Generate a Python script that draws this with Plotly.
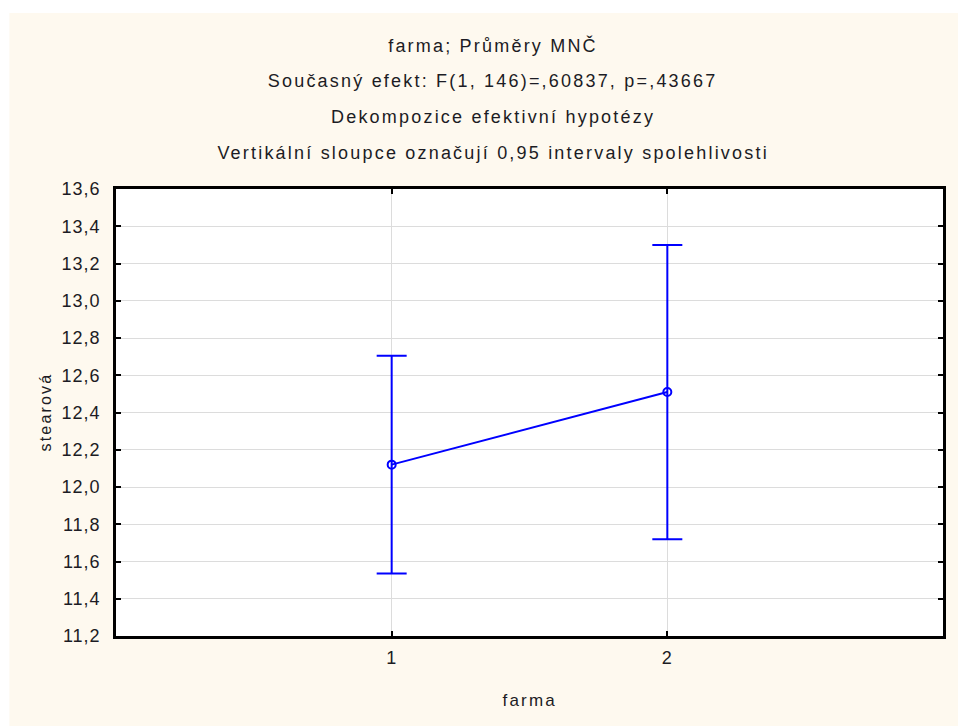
import plotly.graph_objects as go

# Data
categories = [1, 2]
means = [12.12, 12.51]
ci_half = [0.585, 0.79]
y_ticks = [11.2, 11.4, 11.6, 11.8, 12.0, 12.2, 12.4, 12.6, 12.8, 13.0, 13.2, 13.4, 13.6]
title_lines = [
    "farma; Průměry MNČ",
    "Současný efekt: F(1, 146)=,60837, p=,43667",
    "Dekompozice efektivní hypotézy",
    "Vertikální sloupce označují 0,95 intervaly spolehlivosti",
]
x_title = "farma"
y_title = "stearová"

W, H = 958, 726
L, R, T, B = 116, 12, 189, 90
pw, ph = W - L - R, H - T - B

def px_x(x):
    return (x - L) / pw

def px_y(y):
    return (H - B - y) / ph

BLUE = "#0000FF"
CREAM = "#FEF9EF"
TXT = "#1c1c24"
FONT = "Liberation Sans, Arial, sans-serif"

fig = go.Figure()
fig.add_trace(go.Scatter(
    x=categories, y=means,
    mode="lines+markers",
    line=dict(color=BLUE, width=2),
    marker=dict(symbol="circle-open", size=8, color=BLUE, line=dict(width=2, color=BLUE)),
    error_y=dict(type="data", array=ci_half, visible=True, color=BLUE, thickness=2, width=15),
    showlegend=False,
    hoverinfo="x+y",
))

annotations = []
title_y_px = [45, 81, 117, 153]
for txt, ypx in zip(title_lines, title_y_px):
    annotations.append(dict(
        text=txt, x=px_x(494), y=px_y(ypx), xref="paper", yref="paper",
        xanchor="center", yanchor="middle", showarrow=False,
        font=dict(family=FONT, size=18, color=TXT),
    ))
annotations.append(dict(
    text=x_title, x=0.5, y=px_y(700), xref="paper", yref="paper",
    xanchor="center", yanchor="middle", showarrow=False,
    font=dict(family=FONT, size=17, color=TXT),
))
annotations.append(dict(
    text=y_title, x=px_x(45), y=0.5, xref="paper", yref="paper",
    xanchor="center", yanchor="middle", showarrow=False, textangle=-90,
    font=dict(family=FONT, size=16, color=TXT),
))

SH = "#A9A9A9"
shapes = [
    # white strips at top and left of the cream panel
    dict(type="rect", xref="paper", yref="paper", x0=px_x(-20), x1=px_x(W + 20),
         y0=px_y(13), y1=px_y(-20), fillcolor="white", line=dict(width=0), layer="below"),
    dict(type="rect", xref="paper", yref="paper", x0=px_x(-20), x1=px_x(9),
         y0=px_y(H + 20), y1=px_y(-20), fillcolor="white", line=dict(width=0), layer="below"),
    # soft shadow of the plot frame
    dict(type="rect", xref="paper", yref="paper", x0=px_x(W - R + 1), x1=px_x(W - R + 3),
         y0=px_y(H - B + 3), y1=px_y(T + 3), fillcolor=SH, line=dict(width=0), layer="below"),
    dict(type="rect", xref="paper", yref="paper", x0=px_x(L + 3), x1=px_x(W - R + 3),
         y0=px_y(H - B + 3), y1=px_y(H - B + 1), fillcolor=SH, line=dict(width=0), layer="below"),
]

fig.update_layout(
    width=W, height=H,
    margin=dict(l=L, r=R, t=T, b=B, pad=0),
    paper_bgcolor=CREAM,
    plot_bgcolor="white",
    separators=",.",
    annotations=annotations,
    shapes=shapes,
    font=dict(family=FONT, size=16, color=TXT),
)
fig.update_xaxes(
    range=[0, 3], tickvals=categories, ticktext=[str(c) for c in categories],
    showgrid=True, gridcolor="#DCDCDC", gridwidth=1,
    showline=True, linecolor="black", linewidth=2.5, mirror="ticks",
    ticks="inside", ticklen=5, tickwidth=2, tickcolor="black",
    ticklabelstandoff=4,
    tickfont=dict(family=FONT, size=18, color=TXT),
    zeroline=False,
)
fig.update_yaxes(
    range=[11.2, 13.6], tickvals=y_ticks, tickformat=".1f",
    showgrid=True, gridcolor="#DCDCDC", gridwidth=1,
    showline=True, linecolor="black", linewidth=2.5, mirror="ticks",
    ticks="inside", ticklen=5, tickwidth=2, tickcolor="black",
    ticklabelstandoff=9,
    tickfont=dict(family=FONT, size=18, color=TXT),
    zeroline=False,
)

# page without default body margin; widen letter spacing like the original rendering
post = """
document.body.style.margin = '0';
document.body.style.overflow = 'hidden';
var gd = document.getElementById('{plot_id}');
function spread() {
  gd.querySelectorAll('.annotation-text').forEach(function(e){ e.style.letterSpacing = '2.2px'; });
  gd.querySelectorAll('.xtick text, .ytick text').forEach(function(e){ e.style.letterSpacing = '1px'; });
}
spread();
gd.on('plotly_afterplot', spread);
"""

fig.write_html("out.html", post_script=post, config={"displayModeBar": False})
